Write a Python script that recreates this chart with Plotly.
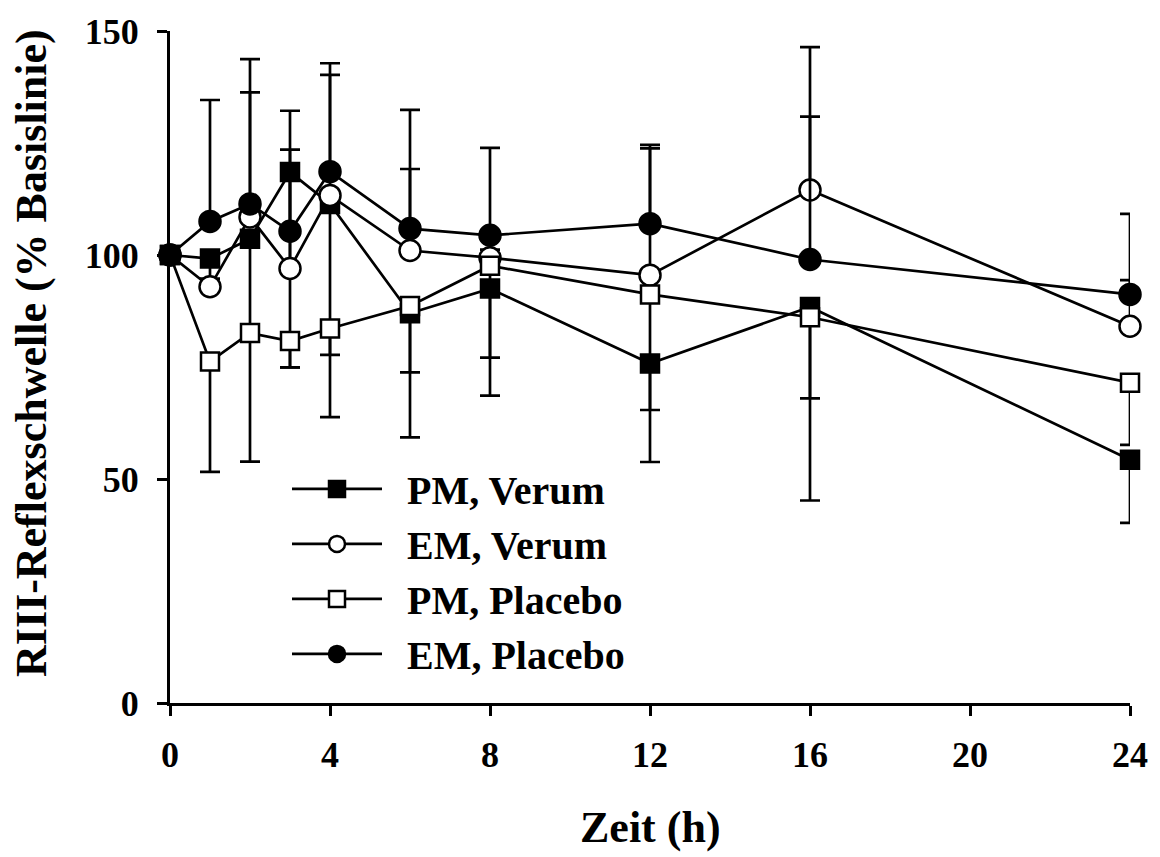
import plotly.graph_objects as go

time_h = [0, 1, 2, 3, 4, 6, 8, 12, 16, 24]

pm_verum = [100, 99.2, 103.6, 118.5, 111.4, 87.0, 92.5, 75.8, 88.4, 54.3]
em_verum = [100, 92.9, 108.5, 97.0, 113.3, 101.0, 99.4, 95.5, 114.5, 84.1]
pm_placebo = [100, 76.2, 82.6, 80.8, 83.6, 88.6, 97.6, 91.2, 86.1, 71.5]
em_placebo = [100, 107.5, 111.4, 105.3, 118.6, 105.9, 104.4, 107.0, 99.0, 91.2]

# one-sided error bars (EM upward, PM downward)
pm_verum_err_minus = [0, 4.5, 20.7, 43.6, 47.6, 27.7, 23.9, 22.0, 43.2, 14.1]
em_verum_err_plus = [0, 1.8, 35.2, 26.5, 26.9, 18.2, 1.8, 28.3, 31.9, 10.3]
pm_placebo_err_minus = [0, 24.6, 28.7, 5.9, 5.9, 14.8, 20.5, 25.8, 18.1, 13.9]
em_placebo_err_plus = [0, 27.1, 24.9, 26.9, 24.2, 26.5, 19.5, 17.6, 31.9, 18.0]

x_ticks = [0, 4, 8, 12, 16, 20, 24]
y_ticks = [0, 50, 100, 150]

FONT = "Liberation Serif"
zeros = [0] * len(time_h)

series = [
    ("PM, Verum", pm_verum, zeros, pm_verum_err_minus, "square", "black", 18),
    ("EM, Verum", em_verum, em_verum_err_plus, zeros, "circle", "white", 21),
    ("PM, Placebo", pm_placebo, zeros, pm_placebo_err_minus, "square", "white", 18),
    ("EM, Placebo", em_placebo, em_placebo_err_plus, zeros, "circle", "black", 21),
]

fig = go.Figure()
for name, vals, eplus, eminus, sym, fill, size in series:
    fig.add_trace(go.Scatter(
        x=time_h, y=vals, name="\u00a0\u00a0" + name, mode="lines+markers",
        cliponaxis=False,
        line=dict(color="black", width=2.7),
        marker=dict(symbol=sym, size=size, color=fill,
                    line=dict(color="black", width=2.5)),
        error_y=dict(type="data", symmetric=False, array=eplus,
                     arrayminus=eminus, color="black", thickness=2.7,
                     width=10),
    ))

# the page body has an 8 px default margin, so the figure is 8 px smaller
fig.update_layout(
    width=1152, height=849,
    margin=dict(l=162, r=30, t=23, b=154),
    paper_bgcolor="white", plot_bgcolor="white",
    font=dict(family=FONT, color="black", size=36, weight="bold"),
    showlegend=True,
    legend=dict(x=(287 - 170) / 960, y=0.367, xanchor="left", yanchor="top",
                bgcolor="rgba(0,0,0,0)", itemwidth=90,
                font=dict(family=FONT, size=40, color="black", weight="bold")),
    xaxis=dict(range=[0, 24], tickvals=x_ticks, showline=True,
               linecolor="black", linewidth=3, ticks="outside",
               ticklen=10, tickwidth=3, tickcolor="black",
               showgrid=False, zeroline=False, automargin=False,
               ticklabelstandoff=8,
               tickfont=dict(family=FONT, size=36, color="black", weight="bold")),
    yaxis=dict(range=[0, 150], tickvals=y_ticks, showline=True,
               linecolor="black", linewidth=3, ticks="outside",
               ticklen=10, tickwidth=3, tickcolor="black",
               showgrid=False, zeroline=False, automargin=False,
               ticklabelstandoff=11,
               tickfont=dict(family=FONT, size=36, color="black", weight="bold")),
    annotations=[
        dict(text="Zeit (h)", xref="paper", yref="paper",
             x=(650.5 - 170) / 960, y=(703 - 828) / 672, xanchor="center",
             yanchor="middle", showarrow=False,
             font=dict(family=FONT, size=44, color="black", weight="bold")),
        dict(text="RIII-Reflexschwelle (% Basislinie)", xref="paper",
             yref="paper", x=(31 - 170) / 960, y=(703 - 353) / 672,
             xanchor="center", yanchor="middle", textangle=-90,
             showarrow=False,
             font=dict(family=FONT, size=44, color="black", weight="bold")),
    ],
)

fig.write_html("out.html")
